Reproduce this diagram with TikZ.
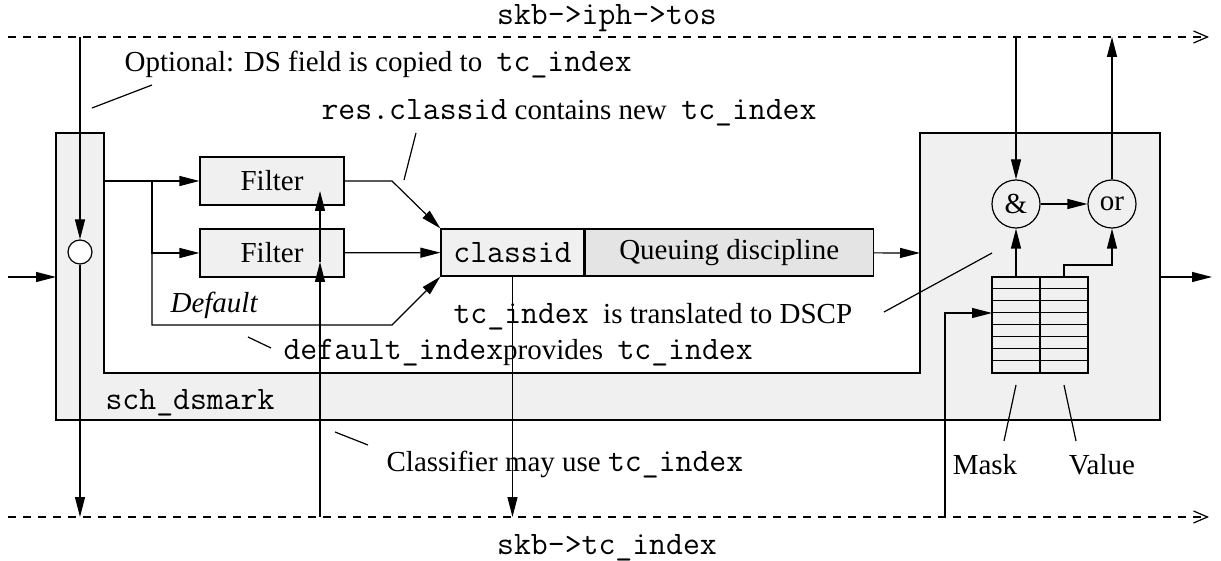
\documentclass[tikz,border=0pt]{standalone}
\usepackage{fontspec}
\setmainfont{Liberation Serif}
\usetikzlibrary{positioning,arrows.meta}
\definecolor{boxgray}{HTML}{F0F0F0}
\definecolor{qgray}{HTML}{E4E4E4}
\newcommand\tcode[1]{{\fontsize{16.4}{17}\selectfont\ttfamily #1}}

\begin{document}
\begin{tikzpicture}[
  x=0.5pt, y=-0.5pt,
  font=\fontsize{14.5}{17}\selectfont,
  line width=0.6pt,
  filt/.style={draw, minimum width=72pt, minimum height=24pt, fill=boxgray, inner sep=0pt},
  qbox/.style={draw, minimum height=23.5pt, inner sep=0pt},
  gate/.style={draw, circle, minimum size=24pt, inner sep=0pt},
  lbl/.style={inner sep=0pt, anchor=west},
  arr/.style={-{Triangle[length=10pt,width=5pt]}},
  bus/.style={dash pattern=on 4pt off 3.5pt, -{Straight Barb[length=7pt,width=6pt]}}]
  \useasboundingbox (0,0) rectangle (1221,561);
  % sch_dsmark outline
  \draw[fill=boxgray] (56,133) -- (104,133) -- (104,373) -- (920,373) -- (920,133)
    -- (1160,133) -- (1160,420) -- (56,420) -- cycle;
  % buses
  \coordinate (topL) at (8,37);
  \coordinate (topR) at (1209,37);
  \coordinate (botL) at (8,517);
  \coordinate (botR) at (1209,517);
  \draw[bus] (topL) -- (topR);
  \draw[bus] (botL) -- (botR);
  \node (tos) at (607,18) {\tcode{skb->iph->tos}};
  \node (tcidx) at (607,548) {\tcode{skb->tc\_index}};
  % boxes
  \node[draw, circle, minimum size=12pt, inner sep=0pt, fill=white] (dot) at (80,252) {};
  \node[filt] (filt1) at (272,181) {Filter};
  \node[filt] (filt2) at (272,253) {Filter};
  \node[qbox, fill=boxgray, minimum width=71.5pt] (cls) at (512.5,252.5) {\tcode{classid}};
  \node[qbox, fill=qgray, minimum width=144pt, right=0pt of cls] (queue) {Queuing discipline};
  \node[gate] (andg) at (1016,204) {\&};
  \node[gate] (org) at (1112,204) {or};
  \node[draw, fill=boxgray, minimum width=48pt, minimum height=48pt, inner sep=0pt] (tbl) at (1040,325) {};
  \draw (tbl.north) -- (tbl.south);
  \foreach \i in {1,...,7}
    \draw ([yshift=-\i*6pt]tbl.north west) -- ([yshift=-\i*6pt]tbl.north east);
  % points on sch_dsmark
  \coordinate (inL) at (8,277);
  \coordinate (dsIn) at (56,277);
  \coordinate (dsOut) at (1160,277);
  \coordinate (outR) at (1212,277);
  \coordinate (colR) at (104,181);
  \coordinate (fork) at (152,181);
  \coordinate (bend1) at (392,181);
  \coordinate (bend3) at (392,325);
  \coordinate (rin) at (920,253);
  \coordinate (hit1) at (320,191);
  \coordinate (hit2) at (320,262);
  \coordinate (vbend) at (1064,265);
  \coordinate (row3) at (992,313);
  % connections
  \draw[arr] (inL) -- (dsIn);
  \draw[arr] (dsOut) -- (outR);
  \draw[arr] (dot |- topL) -- (dot);
  \draw[arr] (dot) -- (dot |- botL);
  \draw[arr] (colR) -- (filt1);
  \draw[arr] (fork) |- (filt2);
  \draw[arr] (fork) |- (bend3) -- (cls.south west);
  \draw[arr] (filt1) -- (bend1) -- (cls.north west);
  \draw[arr] (filt2) -- (cls);
  \draw[arr] (queue) -- (rin);
  \draw[arr] (hit2 |- botL) -- (hit2);
  \draw[arr] (hit2) -- (hit1);
  \draw[arr] (cls.south) -- (cls.south |- botL);
  \draw[arr] (andg |- topL) -- (andg);
  \draw[arr] (org) -- (org |- topL);
  \draw[arr] (andg) -- (org);
  \draw[arr] (andg |- tbl.north) -- (andg);
  \draw[arr] (vbend |- tbl.north) -- (vbend) -| (org);
  \draw[arr] (945,517) |- (row3);
  % labels
  \node[lbl] (opt) at (124,65) {Optional: DS field is copied to \ \tcode{tc\_index}};
  \node[lbl] (resc) at (321,113) {\tcode{res.classid} contains new \ \tcode{tc\_index}};
  \node[lbl] (dscp) at (453,317) {\tcode{tc\_index} \ is translated to DSCP};
  \node[lbl] (dflti) at (283,353) {\tcode{default\_index}provides \ \tcode{tc\_index}};
  \node[lbl] (dflt) at (170,305) {\textit{Default}};
  \node[lbl] (sch) at (105,403) {\tcode{sch\_dsmark}};
  \node[lbl] (clsf) at (386,465) {Classifier may use \tcode{tc\_index}};
  \node (mask) at (985,465) {Mask};
  \node (val) at (1102,465) {Value};
  % leaders
  \draw (152,85) -- (92,108);
  \draw (416,133) -- (404,180);
  \draw (248,337) -- (271,348);
  \draw (884,312) -- (992,253);
  \draw (335,432) -- (368,445);
  \draw (1016,385) -- (1004,441);
  \draw (1064,385) -- (1076,441);
\end{tikzpicture}
\end{document}
